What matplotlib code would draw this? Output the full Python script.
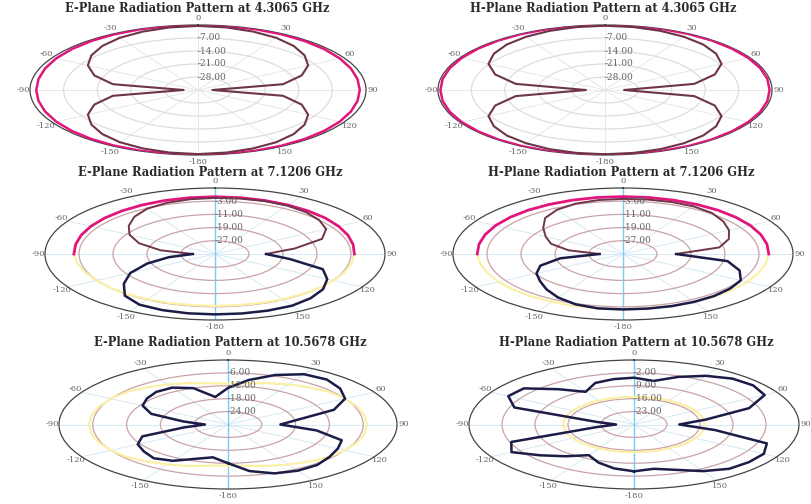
import numpy as np
import matplotlib
matplotlib.use('Agg')
import matplotlib.pyplot as plt

# angles in degrees, clockwise from 0 (top)
FULL = list(range(-180, 181, 10))
UPPER = list(range(-90, 91, 10))
LOWER = list(range(90, 271, 10))

THETA_TICKS = [0, 30, 60, 90, 120, 150, 180, 210, 240, 270, 300, 330]
THETA_LABELS = ['0', '30', '60', '90', '120', '150', '-180', '-150', '-120', '-90', '-60', '-30']

# --- E-plane 4.3065 GHz (dB) ---
e43_rings = [-7, -14, -21, -28]
e43_pink = [0, -0.05, -0.15, -0.3, -0.5, -0.7, -0.9, -1.1, -1.25, -1.3, -1.25, -1.1, -0.9, -0.7, -0.5, -0.3,
            -0.15, -0.05, 0, -0.05, -0.15, -0.3, -0.5, -0.7, -0.9, -1.1, -1.25, -1.3, -1.25, -1.1, -0.9, -0.7,
            -0.5, -0.3, -0.15, -0.05, 0]
e43_main = [-0.5, -0.8, -1.5, -2.5, -4, -6, -8.5, -12, -17, -32, -17, -12, -8.5, -6, -4, -2.5, -1.5, -0.8,
            -0.5, -0.8, -1.5, -2.5, -4, -6, -8.5, -12, -17, -32, -17, -12, -8.5, -6, -4, -2.5, -1.5, -0.8, -0.5]

# --- H-plane 4.3065 GHz ---
h43_rings = [-7, -14, -21, -28]
h43_pink = [0, -0.02, -0.05, -0.1, -0.2, -0.3, -0.35, -0.4, -0.45, -0.5, -0.45, -0.4, -0.35, -0.3, -0.2, -0.1,
            -0.05, -0.02, 0, -0.02, -0.05, -0.1, -0.2, -0.3, -0.35, -0.4, -0.45, -0.5, -0.45, -0.4, -0.35, -0.3,
            -0.2, -0.1, -0.05, -0.02, 0]
h43_main = [-0.4, -0.6, -1.1, -1.9, -3, -4.6, -6.8, -10.5, -16, -31, -16, -10.5, -6.8, -4.6, -3, -1.9, -1.1,
            -0.6, -0.4, -0.6, -1.1, -1.9, -3, -4.6, -6.8, -10.5, -16, -31, -16, -10.5, -6.8, -4.6, -3, -1.9,
            -1.1, -0.6, -0.4]

# --- E-plane 7.1206 GHz ---
e71_rings = [-3, -11, -19, -27]
e71_pink = [-1.8, -1.7, -1.5, -1.3, -1.1, -0.9, -0.7, -0.5, -0.35, -0.3, -0.35, -0.5, -0.7, -0.9, -1.1, -1.4,
            -1.7, -2.0, -2.2]
e71_yellow = [-2.2, -2.4, -2.6, -2.8, -3.0, -3.2, -3.3, -3.4, -3.5, -3.5, -3.5, -3.4, -3.3, -3.2, -3.0, -2.8,
              -2.5, -2.1, -1.8]
e71_upper = [-29.8, -22, -16, -11.8, -8.5, -5.5, -3.2, -2, -1.3, -1, -0.9, -0.9, -1.1, -1.8, -3, -4.8, -8.2,
             -16, -23]
e71_lower = [-23, -17, -8, -4.5, -1.8, 0, 1.2, 1.5, 1.6, 1.6, 1.5, 1.2, 0.5, -2, -7, -12, -18, -24, -29.8]

# --- H-plane 7.1206 GHz ---
h71_rings = [-3, -11, -19, -27]
h71_pink = [-0.7, -0.6, -0.5, -0.4, -0.35, -0.3, -0.3, -0.25, -0.2, -0.2, -0.2, -0.25, -0.3, -0.3, -0.35, -0.4,
            -0.5, -0.6, -0.7]
h71_yellow = [-0.7, -0.9, -1.1, -1.2, -1.3, -1.4, -1.5, -1.5, -1.5, -1.5, -1.5, -1.5, -1.5, -1.4, -1.3, -1.2,
              -1.1, -0.9, -0.7]
h71_upper = [-29.5, -22, -17, -14, -10.5, -6.5, -4, -2.5, -1.8, -1.6, -1.5, -1.5, -1.7, -2.5, -4.2, -6.2, -8.5,
             -12, -22.5]
h71_lower = [-22.5, -10, -5.8, -3, -2.2, -1.7, -1.5, -1.4, -1.4, -1.4, -1.5, -2.5, -4.5, -7, -9.5, -11.5, -14.3,
             -20, -29.5]

# --- E-plane 10.5678 GHz ---
e105_rings = [-6, -12, -18, -24]
e105_yellow = [-11, -10.5, -9.5, -8.5, -7.5, -6.5, -6, -5.6, -5.4, -5.3, -5.4, -5.6, -6, -6.5, -7.5, -8.5, -9.5,
               -10.5, -11, -10.5, -9.5, -8.5, -7.5, -6.5, -6, -5.6, -5.4, -5.3, -5.4, -5.6, -6, -6.5, -7.5, -8.5,
               -9.5, -10.5, -11]
e105_main = [-12, -14.5, -13, -10.5, -9.5, -10.5, -11.5, -13.8, -22, -25.9, -22, -15.5, -12.5, -11.2, -10.2,
             -10.2, -12, -17, -13, -9, -5.5, -3, -2.7, -4, -6, -10, -17.5, -20.7, -14, -8.5, -7.5, -6.5, -5.4,
             -5.2, -5.8, -8, -12]

# --- H-plane 10.5678 GHz ---
h105_rings = [-2, -9, -16, -23]
h105_yellow = [-15] * 37
h105_main = [-4.6, -5.8, -8, -10.8, -7.5, -4, 0, -2.3, -22, -26.2, -22, -3, 0.8, 0.5, -5, -9.5, -6, -5, -4.6,
             -6, -2.5, 0.5, 2.5, 3, 2, -4, -14.5, -20.4, -12.5, 0, 1.8, 1.8, 1.4, -0.8, -3.8, -5.6, -4.6]

PINK = '#e0167c'
MAROON = '#6e3448'
NAVY = '#1c1c48'
YELLOW = '#fbf0a8'


def draw_panel(fig, rect, title, title_xy, r_min, r_max, rings, traces, grid_color, spoke_color,
               tick_step, blue_axis):
    ax = fig.add_axes(rect, projection='polar')
    ax.set_theta_zero_location('N')
    ax.set_theta_direction(-1)
    ax.set_aspect('auto')
    ax.set_ylim(r_min, r_max)
    ax.set_yticks(rings)
    ax.set_yticklabels([])
    ax.set_thetagrids(THETA_TICKS, THETA_LABELS, fontsize=6, color='#666666', family='DejaVu Serif')
    ax.set_xticks(np.deg2rad(np.arange(0, 360, tick_step)), minor=True)
    ax.tick_params(axis='x', which='major', direction='in', length=5, width=0.6, color='#555555', pad=-2)
    ax.tick_params(axis='x', which='minor', direction='in', length=3, width=0.5, color='#666666')
    ax.xaxis.grid(True, color=spoke_color, lw=0.6)
    ax.yaxis.grid(True, color=grid_color, lw=0.9)
    ax.set_axisbelow(True)
    ax.spines['polar'].set_color('#444444')
    ax.spines['polar'].set_linewidth(0.9)
    if blue_axis:
        ax.axvline(0, color='#7ccbef', lw=1.0, zorder=1)
        ax.axvline(np.pi, color='#7ccbef', lw=1.0, zorder=1)
    for angles, values, color, lw in traces:
        ax.plot(np.deg2rad(angles), values, color=color, lw=lw, zorder=3)
    for rv in rings:
        ax.text(0, rv, f'{rv:.2f}', ha='left', va='center', fontsize=6.5, color='#666666',
                family='DejaVu Serif', zorder=4)
    fig.text(title_xy[0] / 812, 1 - title_xy[1] / 504, title, ha='center', va='center',
             fontsize=8.3, fontweight='bold', family='DejaVu Serif', color='#2a2a2a')
    return ax


fig = plt.figure(figsize=(8.12, 5.04), dpi=100)

draw_panel(fig, [30 / 812, 349 / 504, 336 / 812, 130 / 504], 'E-Plane Radiation Pattern at 4.3065 GHz',
           (197, 9), -35, 0, e43_rings,
           [(FULL, e43_pink, PINK, 1.8), (FULL, e43_main, MAROON, 1.5)],
           '#dddddd', '#e4e4e4', 5, False)
draw_panel(fig, [438 / 812, 349 / 504, 334 / 812, 130 / 504], 'H-Plane Radiation Pattern at 4.3065 GHz',
           (603, 9), -35, 0, h43_rings,
           [(FULL, h43_pink, PINK, 1.8), (FULL, h43_main, MAROON, 1.5)],
           '#dddddd', '#e4e4e4', 5, False)
draw_panel(fig, [45 / 812, 184 / 504, 340 / 812, 132 / 504], 'E-Plane Radiation Pattern at 7.1206 GHz',
           (210, 172), -35, 5, e71_rings,
           [(LOWER, e71_yellow, YELLOW, 1.6), (UPPER, e71_pink, PINK, 2.0),
            (UPPER, e71_upper, MAROON, 1.4), (LOWER, e71_lower, NAVY, 1.8)],
           '#c9a3a8', '#cfe6f4', 10, True)
draw_panel(fig, [453 / 812, 184 / 504, 340 / 812, 132 / 504], 'H-Plane Radiation Pattern at 7.1206 GHz',
           (621, 172), -35, 5, h71_rings,
           [(LOWER, h71_yellow, YELLOW, 1.6), (UPPER, h71_pink, PINK, 2.0),
            (UPPER, h71_upper, MAROON, 1.4), (LOWER, h71_lower, NAVY, 1.8)],
           '#c9a3a8', '#cfe6f4', 10, True)
draw_panel(fig, [59 / 812, 15 / 504, 338 / 812, 129 / 504], 'E-Plane Radiation Pattern at 10.5678 GHz',
           (230, 343), -30, 0, e105_rings,
           [(FULL, e105_yellow, YELLOW, 1.6), (FULL, e105_main, NAVY, 1.8)],
           '#c9a3a8', '#cfe6f4', 10, True)
draw_panel(fig, [469 / 812, 15 / 504, 330 / 812, 129 / 504], 'H-Plane Radiation Pattern at 10.5678 GHz',
           (636, 343), -30, 5, h105_rings,
           [(FULL, h105_yellow, YELLOW, 1.6), (FULL, h105_main, NAVY, 1.8)],
           '#c9a3a8', '#cfe6f4', 10, True)

fig.savefig('out.png', dpi=100)
